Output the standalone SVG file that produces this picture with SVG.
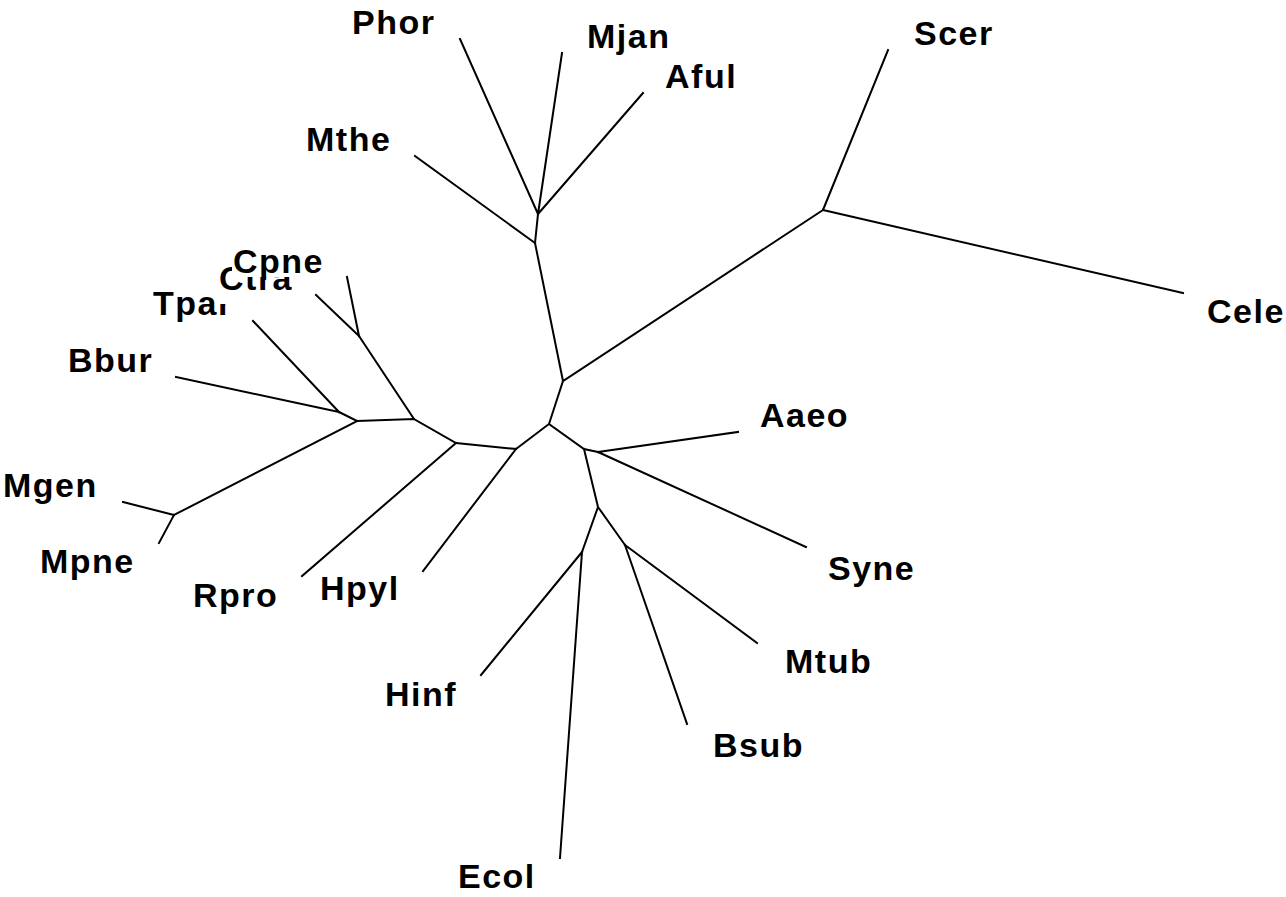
<svg xmlns="http://www.w3.org/2000/svg" width="1286" height="897" viewBox="0 0 1286 897">
<style>
.e{stroke:#000;stroke-width:2;fill:none;stroke-linecap:square}
.t{font-family:"Liberation Sans",Arial,sans-serif;font-weight:bold;font-size:34px;letter-spacing:1.5px;fill:#000}
.bg{fill:#fff}
</style>
<rect width="1286" height="897" fill="#fff"/>
<g id="connectors">
<path class="e" d="M538,214L535,243L563,381L823,210M563,381L549,424L516,449M549,424L584,449L598,452M584,449L598,507L582,552M598,507L625,545M516,449L456,443L414,419L359,336M414,419L357,421L339,412M357,421L174,515"/>
<path class="e" d="M460,39L538,214M562,53L538,214M643,93L538,214M415,156L535,243M888,50L823,210M1183,293L823,210M738,432L598,452M806,547L598,452M757,643L625,545M687,724L625,545M481,675L582,552M560,858L582,552M423,571L516,449M302,576L456,443M347,277L359,336M316,295L359,336M176,377L339,412M253,321L339,412M123,502L174,515M159,543L174,515"/>
</g>
<g id="Phor"><text class="t" x="352" y="34">Phor</text></g>
<g id="Mjan"><text class="t" x="587" y="48">Mjan</text></g>
<g id="Aful"><text class="t" x="665" y="88">Aful</text></g>
<g id="Mthe"><text class="t" x="306" y="151">Mthe</text></g>
<g id="Scer"><text class="t" x="914" y="45">Scer</text></g>
<g id="Cele"><text class="t" x="1207" y="323">Cele</text></g>
<g id="Aaeo"><text class="t" x="760" y="427">Aaeo</text></g>
<g id="Syne"><text class="t" x="828" y="580">Syne</text></g>
<g id="Mtub"><text class="t" x="785" y="673">Mtub</text></g>
<g id="Bsub"><text class="t" x="713" y="757">Bsub</text></g>
<g id="Hinf"><text class="t" x="385" y="706">Hinf</text></g>
<g id="Ecol"><text class="t" x="458" y="888">Ecol</text></g>
<g id="Hpyl"><text class="t" x="320" y="600">Hpyl</text></g>
<g id="Rpro"><text class="t" x="193" y="607">Rpro</text></g>
<g id="Mpne"><text class="t" x="40" y="573">Mpne</text></g>
<g id="Mgen"><text class="t" x="3" y="497">Mgen</text></g>
<g id="Bbur"><text class="t" x="68" y="372">Bbur</text></g>
<g id="Tpar"><text class="t" x="153" y="315">Tpar</text></g>
<g id="Ctra"><rect class="bg" x="219" y="262" width="76" height="42"/><text class="t" x="219" y="290">Ctra</text></g>
<g id="Cpne"><rect class="bg" x="232" y="245" width="92" height="32"/><text class="t" x="233" y="273">Cpne</text></g>
</svg>
